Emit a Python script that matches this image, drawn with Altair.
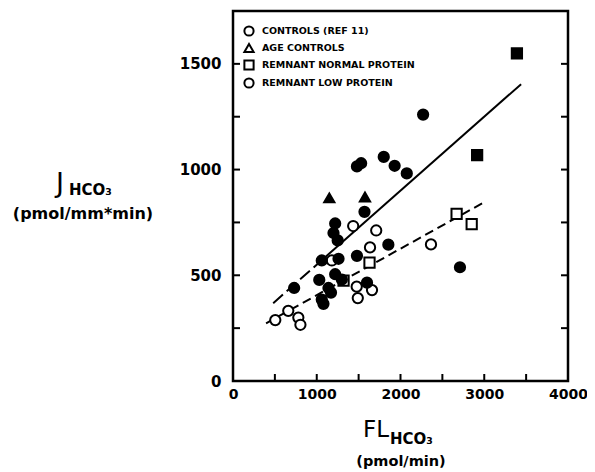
import altair as alt
import pandas as pd

W, H = 335, 370

# ---- data ----
groups = ["CONTROLS (REF 11)", "AGE CONTROLS", "REMNANT NORMAL PROTEIN", "REMNANT LOW PROTEIN"]

ctrl_x = [1435, 1710, 1636, 2364, 1180, 1477, 1660, 1490, 660, 505, 780, 805]
ctrl_y = [733, 712, 632, 646, 570, 446, 430, 392, 332, 288, 300, 266]

age_x = [1150, 1576]
age_y = [866, 870]

norm_open_x = [2670, 2850, 1630, 1320]
norm_open_y = [791, 742, 560, 475]
norm_fill_x = [2915, 3390]
norm_fill_y = [1068, 1550]

low_x = [2270, 1480, 1530, 1800, 1930, 2075, 1570, 1220, 1200, 1250, 1855, 1060,
         1260, 1480, 730, 1220, 1030, 1300, 1600, 1140, 1170, 1060, 1080, 2710]
low_y = [1260, 1015, 1030, 1060, 1018, 982, 800, 745, 700, 665, 645, 570,
         578, 592, 440, 505, 478, 480, 465, 440, 418, 385, 365, 538]

upper_dash_x = [480, 1050]
upper_dash_y = [368, 568]
upper_solid_x = [1050, 3440]
upper_solid_y = [568, 1404]
lower_x = [395, 3020]
lower_y = [273, 850]

x_labels = [0, 1000, 2000, 3000, 4000]
y_labels = [0, 500, 1000, 1500]
x_ticks = [500, 1000, 1500, 2000, 2500, 3000, 3500]
y_ticks = [250, 500, 750, 1000, 1250, 1500]

# ---- tables ----
rows = []
for x, y in zip(ctrl_x, ctrl_y):
    rows.append(dict(x=x, y=y, group=groups[0], filled="no"))
for x, y in zip(age_x, age_y):
    rows.append(dict(x=x, y=y, group=groups[1], filled="yes"))
for x, y in zip(norm_open_x, norm_open_y):
    rows.append(dict(x=x, y=y, group=groups[2], filled="no"))
for x, y in zip(norm_fill_x, norm_fill_y):
    rows.append(dict(x=x, y=y, group=groups[2], filled="yes"))
for x, y in zip(low_x, low_y):
    rows.append(dict(x=x, y=y, group=groups[3], filled="yes"))
pts = pd.DataFrame(rows)

xs = alt.Scale(domain=[0, 4000], nice=False, zero=False)
ys = alt.Scale(domain=[0, 1750], nice=False, zero=False)

lab_font = "DejaVu Sans"

x_axis = alt.Axis(values=x_labels, ticks=False, domain=False, grid=False, title=None,
                  format="d",
                  labelFont=lab_font, labelFontWeight="bold", labelFontSize=14,
                  labelPadding=6, labelFlush=False, labelOverlap=False, labelColor="black")
y_axis = alt.Axis(values=y_labels, ticks=False, domain=False, grid=False, title=None,
                  format="d",
                  labelFont=lab_font, labelFontWeight="bold", labelFontSize=15,
                  labelPadding=12, labelFlush=False, labelOverlap=False, labelColor="black")

points = alt.Chart(pts).mark_point(filled=True, strokeWidth=2, size=105, opacity=1).encode(
    x=alt.X("x:Q", scale=xs, axis=x_axis),
    y=alt.Y("y:Q", scale=ys, axis=y_axis),
    shape=alt.Shape("group:N",
                    scale=alt.Scale(domain=groups,
                                    range=["circle", "triangle-up", "square", "circle"]),
                    legend=alt.Legend(title=None, orient="none", legendX=10, legendY=14,
                                      symbolFillColor="white", symbolStrokeColor="black",
                                      symbolStrokeWidth=2, symbolSize=85, padding=0,
                                      labelFont=lab_font, labelFontWeight="bold",
                                      labelFontSize=9.5, labelColor="black",
                                      rowPadding=0, labelOffset=7)),
    fill=alt.Fill("filled:N", scale=alt.Scale(domain=["yes", "no"], range=["black", "white"]),
                  legend=None),
    stroke=alt.value("black"),
)

def seg(xv, yv):
    return pd.DataFrame({"x": xv, "y": yv})

upper_d = alt.Chart(seg(upper_dash_x, upper_dash_y)).mark_line(
    color="black", strokeWidth=2, strokeDash=[13, 5]).encode(
    x=alt.X("x:Q", scale=xs), y=alt.Y("y:Q", scale=ys))
upper_s = alt.Chart(seg(upper_solid_x, upper_solid_y)).mark_line(
    color="black", strokeWidth=2).encode(
    x=alt.X("x:Q", scale=xs), y=alt.Y("y:Q", scale=ys))
lower = alt.Chart(seg(lower_x, lower_y)).mark_line(
    color="black", strokeWidth=2, strokeDash=[9, 5]).encode(
    x=alt.X("x:Q", scale=xs), y=alt.Y("y:Q", scale=ys))

xt = pd.DataFrame({"v": x_ticks})
yt = pd.DataFrame({"v": y_ticks})
tick_bottom = alt.Chart(xt).mark_rule(color="black", strokeWidth=2).encode(
    x=alt.X("v:Q", scale=xs), y=alt.value(H), y2=alt.value(H - 7))
tick_left = alt.Chart(yt).mark_rule(color="black", strokeWidth=2).encode(
    y=alt.Y("v:Q", scale=ys), x=alt.value(0), x2=alt.value(7))
tick_right = alt.Chart(yt).mark_rule(color="black", strokeWidth=2).encode(
    y=alt.Y("v:Q", scale=ys), x=alt.value(W), x2=alt.value(W - 7))

def txt(s, x, y, size, weight="normal", align="left"):
    return alt.Chart(pd.DataFrame({"t": [s]})).mark_text(
        align=align, baseline="alphabetic", fontSize=size, font=lab_font,
        fontWeight=weight, color="black").encode(
        text="t:N", x=alt.value(x), y=alt.value(y))

titles = [
    txt("J", -177, 181, 27),
    txt("HCO₃", -164, 184, 15, "bold"),
    txt("(pmol/mm*min)", -150, 208, 16, "bold", "center"),
    txt("FL", 130, 426, 23),
    txt("HCO₃", 157, 433, 15, "bold"),
    txt("(pmol/min)", 168, 455, 14.5, "bold", "center"),
]

chart = alt.layer(
    tick_bottom, tick_left, tick_right, lower, upper_d, upper_s, points, *titles
).properties(
    width=W, height=H,
    autosize=alt.AutoSizeParams(type="none"),
    padding={"left": 225, "top": 3, "right": 19, "bottom": 90},
).configure_view(stroke="black", strokeWidth=2.5)

chart.save("out.html", embed_options={"renderer": "svg", "actions": False})
